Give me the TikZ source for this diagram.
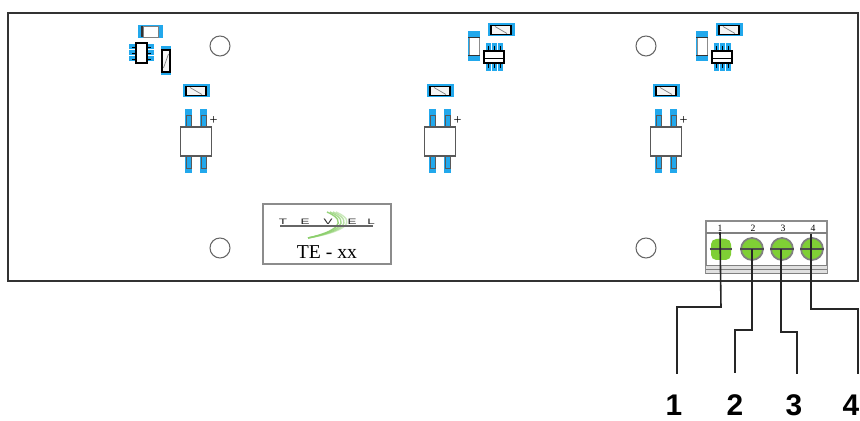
\documentclass[tikz,border=0pt]{standalone}
\usepackage{fontspec}
\setmainfont{Liberation Serif}
\newfontfamily\labelfont{Liberation Sans}
\usetikzlibrary{calc}
\definecolor{padblue}{HTML}{22A8EC}
\definecolor{screwgreen}{HTML}{7FCF35}
\definecolor{logogreen}{HTML}{8CCF6C}
\tikzset{
	board/.style={draw=black!80, line width=1.4pt},
	hole/.style={draw=black!60, fill=white, line width=0.6pt},
	pad/.style={fill=padblue, draw=none},
	part/.style={draw=black, line width=0.9pt, fill=black!4},
	lightpart/.style={draw=black!50, line width=0.5pt, fill=white},
	pinlabel/.style={font=\fontsize{5.5}{6}\selectfont, inner sep=0pt},
	wire/.style={draw=black!85, line width=0.9pt},
	wirelabel/.style={font=\labelfont\bfseries\fontsize{17}{17}\selectfont, inner sep=0pt, text height=12pt, text depth=0pt},
	screw/.style={circle, draw=black!50, fill=screwgreen, line width=1pt, minimum size=22*0.02cm, inner sep=0pt}
}
% horizontal resistor, centre at #1,#2
\def\reshoriz(#1,#2){
	\fill[pad] (#1-13.5, #2-6.5) rectangle (#1+13.5, #2+6.5);
	\draw[part] (#1-10, #2-4.5) rectangle (#1+10, #2+4.5);
	\draw[black!50, line width=0.4pt] (#1-6, #2-3.5) -- (#1+6, #2+3.5);
}
% vertical resistor, plain with dark bars
\def\resvert(#1,#2){
	\fill[pad] (#1-6, #2-15) rectangle (#1+6, #2+15);
	\fill[white] (#1-5, #2-9) rectangle (#1+5, #2+9);
	\draw[black!45, line width=0.5pt] (#1-5, #2-9) -- (#1-5, #2+9);
	\draw[black!45, line width=0.5pt] (#1+5, #2-9) -- (#1+5, #2+9);
	\draw[black!80, line width=0.7pt] (#1-6, #2-9) -- (#1+6, #2-9);
	\draw[black!80, line width=0.7pt] (#1-6, #2+9) -- (#1+6, #2+9);
}
% flat chip with legs above and below
\def\chipflat(#1,#2){
	\foreach \dx in {-6, 0, 6} {
		\fill[pad] (#1+\dx-2.5, #2-14) rectangle (#1+\dx+2.5, #2+14);
		\draw[black, line width=0.5pt] (#1+\dx, #2-11) -- (#1+\dx, #2+11);
	}
	\draw[part, line width=1.1pt, fill=white] (#1-10, #2-6) rectangle (#1+10, #2+6);
	\draw[black, line width=0.4pt] (#1-10, #2+1) -- (#1+10, #2+1);
}
% relay body with four long pads
\def\relaybody(#1){
	\foreach \dx in {-7.5, 7.5} {
		\fill[pad] (#1+\dx-3.8, 109) rectangle (#1+\dx+3.8, 173);
		\draw[black!65, line width=0.35pt] (#1+\dx-2.6, 115) rectangle (#1+\dx+2.6, 168);
	}
	\draw[lightpart, draw=black!65, line width=0.8pt] (#1-15.5, 127) rectangle (#1+15.5, 156);
	\node[inner sep=0pt, font=\fontsize{8}{8}\selectfont] at (#1+17.5, 120.5) {+};
	\reshoriz(#1,91)
}

\begin{document}
\begin{tikzpicture}[x=0.02cm, y=-0.02cm]
	\useasboundingbox (0, 0) rectangle (860, 421);
	
	% board
	\draw[board] (8, 13) rectangle (858, 281);
	
	% mounting holes
	\foreach \hx/\hy in {220/46, 646/46, 220/248, 646/248} {
		\draw[hole] (\hx, \hy) circle (10);
	}
	
	% relays
	\foreach \bx in {196, 440, 666} {
		\relaybody(\bx)
	}
	
	% first group, top left
	\fill[pad] (138, 25) rectangle (163, 38);
	\fill[white] (143, 27) rectangle (158, 36);
	\draw[lightpart] (143, 26) rectangle (158, 37);
	\draw[black!80, line width=0.7pt] (142, 26) -- (142, 37);
	\foreach \py in {47, 53, 59} {
		\fill[pad] (129, \py-2.5) rectangle (154, \py+2.5);
		\draw[black, line width=0.5pt] (132, \py) -- (151, \py);
	}
	\draw[part, line width=1.1pt, fill=white] (136, 43) rectangle (147, 63);
	\fill[pad] (161, 46) rectangle (171, 75);
	\draw[part] (162, 50) rectangle (170, 72);
	\draw[black!50, line width=0.4pt] (163.5, 68) -- (168.5, 54);
	
	% second and third group
	\foreach \gx in {0, 228} {
		\resvert(474+\gx,46.5)
		\reshoriz(501+\gx,30)
		\chipflat(494+\gx,57)
	}
	
	% logo plate
	\draw[draw=black!45, line width=0.7pt, fill=white] (263, 204) rectangle (391, 264);
	\foreach \swoff/\swop in {0/0.9, 3/0.75, 6/0.6, 9/0.45} {
		\draw[logogreen, opacity=\swop, line width=0.8pt] (308, 238) .. controls (335+\swoff, 232) and (350+\swoff, 222) .. (327+\swoff, 212);
	}
	\draw[black!60, line width=0.8pt] (280, 226) -- (373, 226);
	\foreach \lx/\lt in {283/T, 305/E, 328/V, 352/E, 371/L} {
		\node[inner sep=0pt, font=\labelfont\fontsize{4.5}{5}\selectfont, text=black!85, xscale=1.7] at (\lx, 222) {\lt};
	}
	\node[inner sep=0pt, font=\fontsize{11.2}{12}\selectfont] (plate) at (327, 252) {TE - xx};
	
	% terminal block
	\draw[draw=black!45, line width=0.6pt, fill=white] (706, 221) rectangle (827, 273);
	\draw[black!50, line width=0.6pt] (706, 233) -- (827, 233);
	\fill[black!12] (706, 265) rectangle (827, 273);
	\draw[black!50, line width=0.5pt] (706, 265) -- (827, 265);
	\draw[black!50, line width=0.5pt] (706, 269) -- (827, 269);
	\draw[black!50, line width=0.5pt] (706, 273) -- (827, 273);
	\fill[screwgreen, rounded corners=3] (711, 239) rectangle (731, 260);
	\node[screw, draw=none, minimum size=21*0.02cm] (screwa) at (721, 249) {};
	\node[screw] (screwb) at (752, 249) {};
	\node[screw] (screwc) at (782, 249) {};
	\node[screw] (screwd) at (812, 249) {};
	\foreach \sn in {screwa, screwb, screwc, screwd} {
		\draw[black!70, line width=0.7pt] (\sn.west) -- (\sn.east);
	}
	\node[pinlabel] (pina) at (720, 228.5) {1};
	\node[pinlabel] (pinb) at (753, 228.5) {2};
	\node[pinlabel] (pinc) at (783, 228.5) {3};
	\node[pinlabel] (pind) at (813, 228.5) {4};
	
	% wires and their numbers
	\node[wirelabel] (laba) at (674, 404.5) {1};
	\node[wirelabel] (labb) at (735, 404.5) {2};
	\node[wirelabel] (labc) at (794, 404.5) {3};
	\node[wirelabel] (labd) at (851, 404.5) {4};
	\coordinate (enda) at (677, 374);
	\coordinate (endb) at (735, 373);
	\coordinate (endc) at (797, 374);
	\coordinate (endd) at (858, 374);
	\coordinate (kneea) at (721, 307);
	\coordinate (kneeb) at (752, 330);
	\coordinate (kneec) at (781, 332);
	\coordinate (kneed) at (811, 309);
	\draw[wire] (pina.south) -- (kneea) -| (enda);
	\draw[wire] (screwb.center) -- (kneeb) -| (endb);
	\draw[wire] (781, 249) -- (kneec) -| (endc);
	\draw[wire] (811, 234) -- (kneed) -| (endd);
\end{tikzpicture}
\end{document}
